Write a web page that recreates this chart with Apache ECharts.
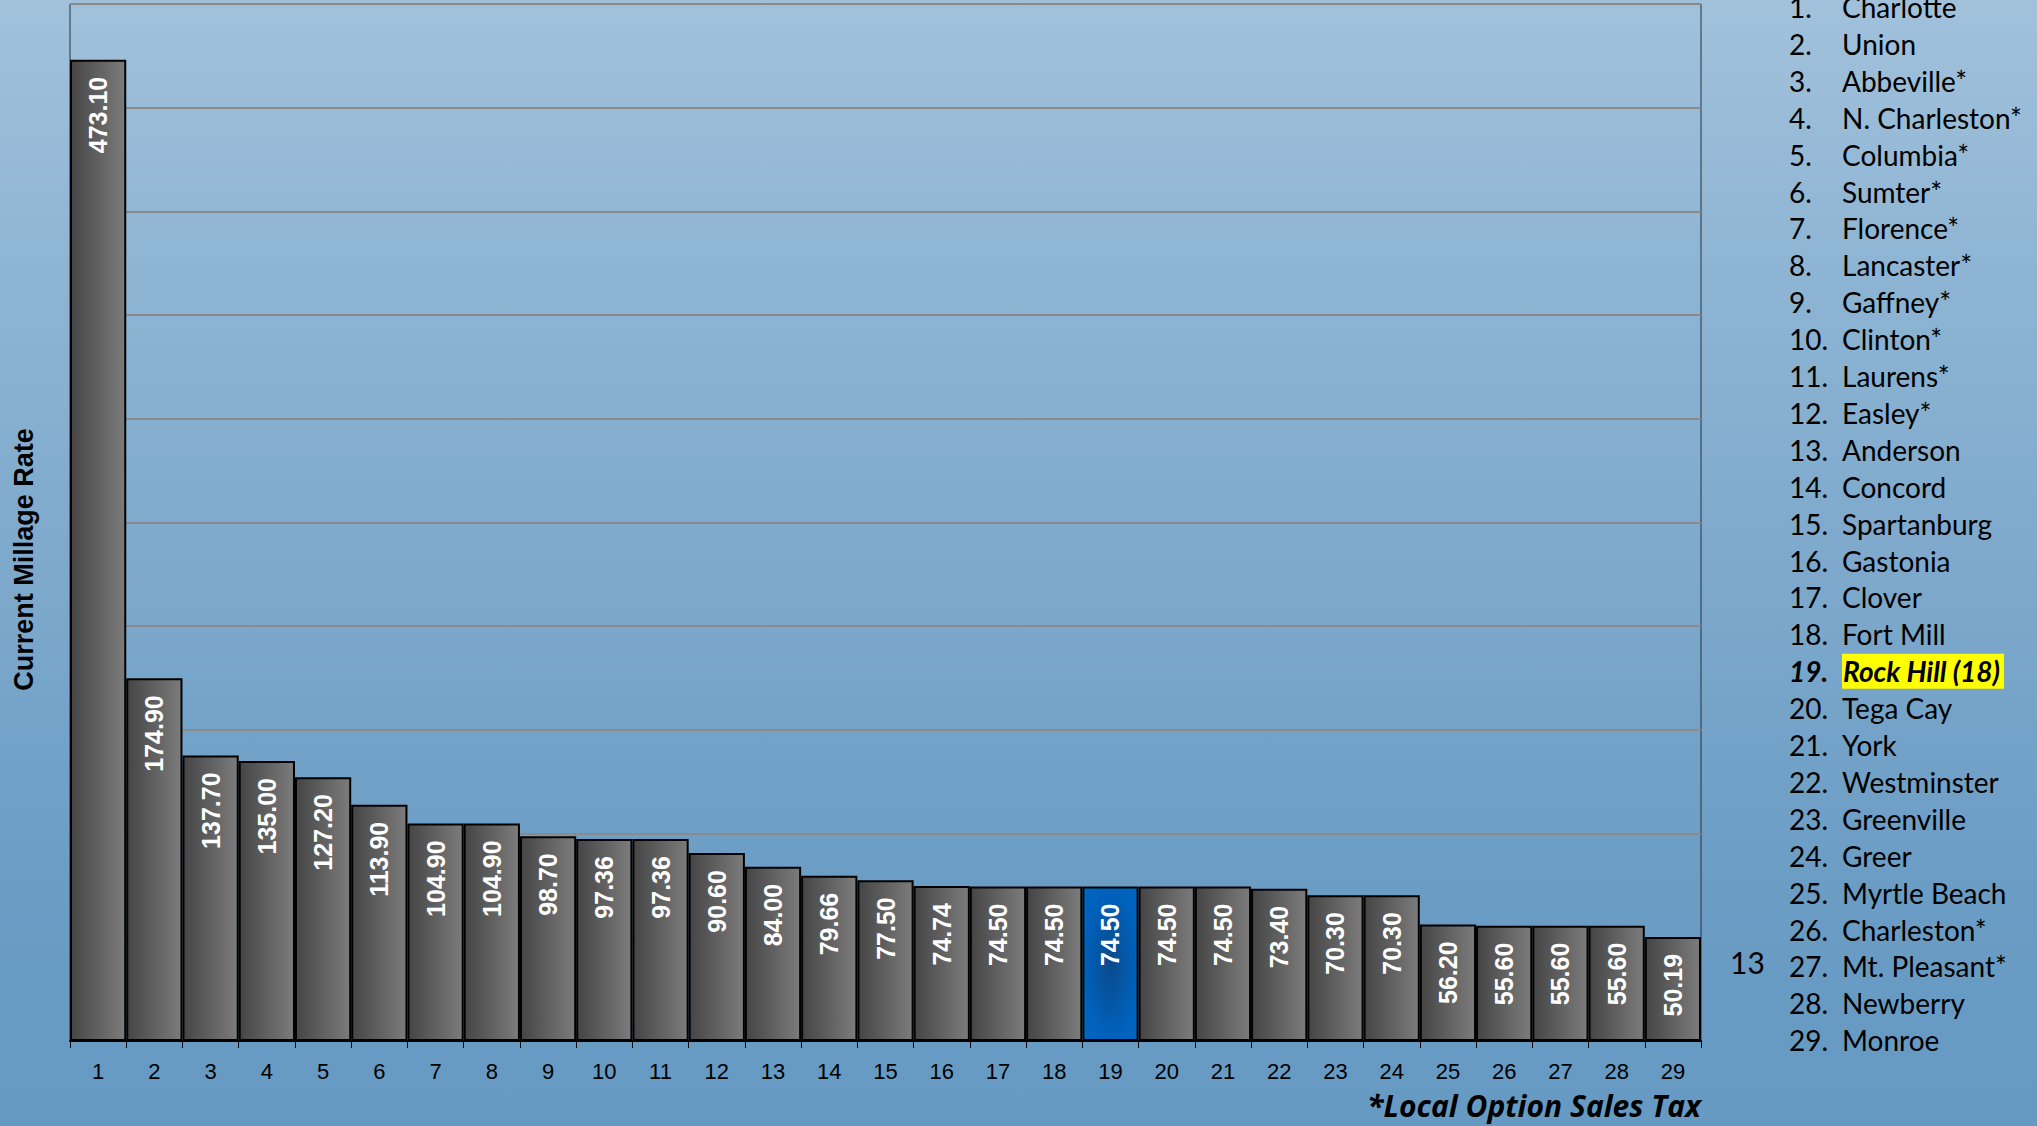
<!DOCTYPE html>
<html>
<head>
<meta charset="utf-8">
<script src="https://cdn.jsdelivr.net/npm/echarts@6/dist/echarts.min.js"></script>
<style>
  html, body { margin: 0; padding: 0; width: 2037px; height: 1126px; overflow: hidden; }
  #chart {
    width: 2037px; height: 1126px;
    background: linear-gradient(180deg, #a1c1db 0%, #8db4d3 25%, #7ba7cb 55%, #6a9cc4 80%, #669ac3 100%);
  }
</style>
</head>
<body>
<div id="chart"></div>
<script>
// ---- data ----
const tickLabels = ['1','2','3','4','5','6','7','8','9','10','11','12','13','14','15','16','17','18','19','20','21','22','23','24','25','26','27','28','29'];
const millageValues = [473.10, 174.90, 137.70, 135.00, 127.20, 113.90, 104.90, 104.90, 98.70, 97.36, 97.36, 90.60, 84.00, 79.66, 77.50, 74.74, 74.50, 74.50, 74.50, 74.50, 74.50, 73.40, 70.30, 70.30, 56.20, 55.60, 55.60, 55.60, 50.19];
const cities = ['Charlotte','Union','Abbeville*','N. Charleston*','Columbia*','Sumter*','Florence*','Lancaster*','Gaffney*','Clinton*','Laurens*','Easley*','Anderson','Concord','Spartanburg','Gastonia','Clover','Fort Mill','Rock Hill (18)','Tega Cay','York','Westminster','Greenville','Greer','Myrtle Beach','Charleston*','Mt. Pleasant*','Newberry','Monroe'];
const highlightIndex = 18;
const yAxisTitle = 'Current Millage Rate';
const footnote = '*Local Option Sales Tax';
const sideNote = '13';

// ---- styles ----
const grayFill = { type: 'linear', x: 0, y: 0, x2: 1, y2: 0,
  colorStops: [{ offset: 0, color: '#454545' }, { offset: 1, color: '#7c7c7c' }] };
const blueFill = { type: 'radial', x: 0.5, y: 0.5, r: 1.1,
  colorStops: [{ offset: 0, color: '#0a4a8c' }, { offset: 0.45, color: '#0062bd' }, { offset: 1, color: '#006bcc' }] };

const barData = millageValues.map((v, i) => ({
  value: v,
  itemStyle: { color: i === highlightIndex ? blueFill : grayFill }
}));

// right-hand ranked list
const listFont = 'Lato, "Noto Sans", sans-serif';
const listGraphics = [];
const rowTop = 7, rowStep = 36.9;
cities.forEach((name, i) => {
  const y = rowTop + i * rowStep;
  const hl = i === highlightIndex;
  listGraphics.push({
    type: 'text', x: 1789, y: y, silent: true,
    style: { text: (i + 1) + '.', font: (hl ? 'italic bold ' : '') + '28px ' + listFont,
      fill: '#000', textAlign: 'left', textVerticalAlign: 'middle' }
  });
  listGraphics.push({
    type: 'text', x: 1842, y: y, silent: true,
    style: Object.assign({ text: name, font: (hl ? 'italic bold ' : '') + '28px ' + listFont,
      fill: '#000', textAlign: 'left', textVerticalAlign: 'middle' },
      hl ? { backgroundColor: '#ffff00', padding: [4, 4, 3, 1] } : {})
  });
});
listGraphics.push({
  type: 'text', x: 1730, y: 962, silent: true,
  style: { text: sideNote, font: '30px ' + listFont, fill: '#000', textAlign: 'left', textVerticalAlign: 'middle' }
});
listGraphics.push({
  type: 'text', x: 1701, y: 1105, silent: true,
  style: { text: footnote, font: 'italic bold 30px "Open Sans", ' + listFont, fill: '#000', textAlign: 'right', textVerticalAlign: 'middle' }
});

const chart = echarts.init(document.getElementById('chart'), null, { renderer: 'svg' });
chart.setOption({
  backgroundColor: 'transparent',
  animation: false,
  grid: { left: 70, right: 336, top: 4, bottom: 85, show: true, outerBoundsMode: 'none', containLabel: false,
    borderColor: '#27323d', borderWidth: 1, backgroundColor: 'transparent' },
  xAxis: {
    type: 'category', data: tickLabels,
    axisLine: { lineStyle: { color: '#000', width: 2 } },
    axisTick: { show: true, length: 7, lineStyle: { color: '#000', width: 1 } },
    axisLabel: { color: '#000', fontSize: 22, margin: 19,
      fontFamily: '"Liberation Sans", Arial, sans-serif' }
  },
  yAxis: {
    type: 'value', min: 0, max: 500, interval: 50,
    axisLine: { show: false }, axisTick: { show: false }, axisLabel: { show: false },
    splitLine: { show: true, lineStyle: { color: '#8a8a8a', width: 2 } },
    name: yAxisTitle, nameLocation: 'middle', nameRotate: 90, nameGap: 33,
    nameTextStyle: { color: '#000', fontSize: 27, fontWeight: 'bold',
      fontFamily: '"Liberation Sans", Arial, sans-serif', padding: [0, 74, 0, 0] }
  },
  series: [{
    type: 'bar', data: barData, barCategoryGap: 0, barGap: 0,
    itemStyle: { borderColor: '#000', borderWidth: 2 },
    label: {
      show: true, position: 'insideTop', rotate: 90, align: 'right', verticalAlign: 'middle',
      distance: 17, color: '#fff', fontSize: 25, fontWeight: 'bold',
      fontFamily: '"Liberation Sans", Arial, sans-serif',
      formatter: p => p.value.toFixed(2)
    }
  }],
  graphic: listGraphics
});
</script>
</body>
</html>
